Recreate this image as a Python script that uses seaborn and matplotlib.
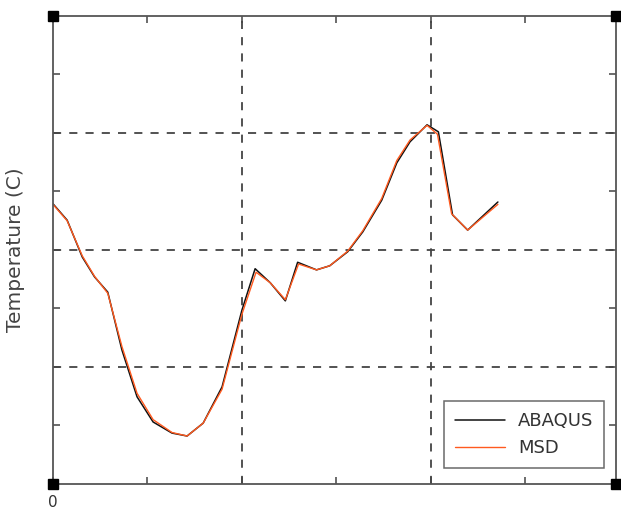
import matplotlib
matplotlib.use("Agg")
import matplotlib.pyplot as plt
import seaborn as sns

# time (arbitrary units, 0..6) and temperature (arbitrary units, 0..8)
abaqus_x = [0.00, 0.15, 0.31, 0.44, 0.58, 0.73, 0.89, 1.06, 1.26, 1.42, 1.59,
            1.79, 2.00, 2.14, 2.30, 2.46, 2.59, 2.79, 2.93, 3.12, 3.28, 3.48,
            3.64, 3.78, 3.96, 4.08, 4.23, 4.39, 4.71]
abaqus_y = [4.79, 4.51, 3.88, 3.54, 3.28, 2.29, 1.49, 1.06, 0.87, 0.82, 1.04,
            1.66, 2.97, 3.68, 3.44, 3.13, 3.79, 3.66, 3.73, 3.97, 4.31, 4.85,
            5.49, 5.85, 6.14, 6.02, 4.60, 4.34, 4.82]
msd_x = [0.00, 0.15, 0.31, 0.44, 0.58, 0.73, 0.89, 1.06, 1.26, 1.42, 1.59,
         1.79, 2.00, 2.15, 2.30, 2.46, 2.60, 2.79, 2.93, 3.12, 3.28, 3.48,
         3.64, 3.78, 3.96, 4.07, 4.22, 4.39, 4.71]
msd_y = [4.78, 4.50, 3.90, 3.55, 3.26, 2.35, 1.55, 1.10, 0.88, 0.82, 1.04,
         1.62, 2.90, 3.62, 3.44, 3.15, 3.76, 3.66, 3.73, 3.98, 4.33, 4.88,
         5.53, 5.88, 6.13, 5.98, 4.62, 4.34, 4.78]

x_ticks = [0, 1, 2, 3, 4, 5]
x_tick_labels = ["0", "", "", "", "", ""]
y_ticks = [1, 2, 3, 4, 5, 6, 7]
x_grid = [2, 4]
y_grid = [2, 4, 6]

sns.set_style("white")
plt.rcParams["font.family"] = ["DejaVu Sans"]

fig = plt.figure(figsize=(6.21, 5.14), dpi=100)
ax = fig.add_axes([0.0853, 0.0584, 0.9066, 0.9105])

sns.lineplot(x=abaqus_x, y=abaqus_y, ax=ax, color="#111111", lw=1.1,
             sort=False, label="ABAQUS")
sns.lineplot(x=msd_x, y=msd_y, ax=ax, color="#ff5a1f", lw=1.0,
             sort=False, label="MSD")

ax.set_xlim(0, 5.96)
ax.set_ylim(0, 8)

for gx in x_grid:
    ax.axvline(gx, color="#444444", lw=1.3, ls=(0, (4.5, 4.5)), zorder=0)
for gy in y_grid:
    ax.axhline(gy, color="#444444", lw=1.3, ls=(0, (4.5, 4.5)), zorder=0)

ax.set_xticks(x_ticks)
ax.set_xticklabels(x_tick_labels, fontsize=11, color="#333333")
ax.set_yticks(y_ticks)
ax.set_yticklabels([])
ax.tick_params(direction="in", length=5, width=1.1, color="#444444",
               top=True, right=True, bottom=True, left=True, pad=8)

for s in ax.spines.values():
    s.set_color("#555555")
    s.set_linewidth(1.3)

ax.set_ylabel("Temperature (C)", fontsize=14.5, color="#444444", labelpad=12)
ax.set_xlabel("")

# corner markers
ax.plot([0, 5.96, 0, 5.96], [0, 0, 8, 8], ls="none", marker="s",
        ms=7, color="black", clip_on=False, zorder=5)

leg = ax.legend(loc="lower right", bbox_to_anchor=(0.979, 0.034),
                borderaxespad=0, fontsize=13, frameon=True, fancybox=False,
                handlelength=2.8, borderpad=0.6, labelspacing=0.5,
                handletextpad=0.7)
leg.get_frame().set_edgecolor("#444444")
leg.get_frame().set_linewidth(1.1)
for t in leg.get_texts():
    t.set_color("#333333")

fig.savefig("out.png", dpi=100)
